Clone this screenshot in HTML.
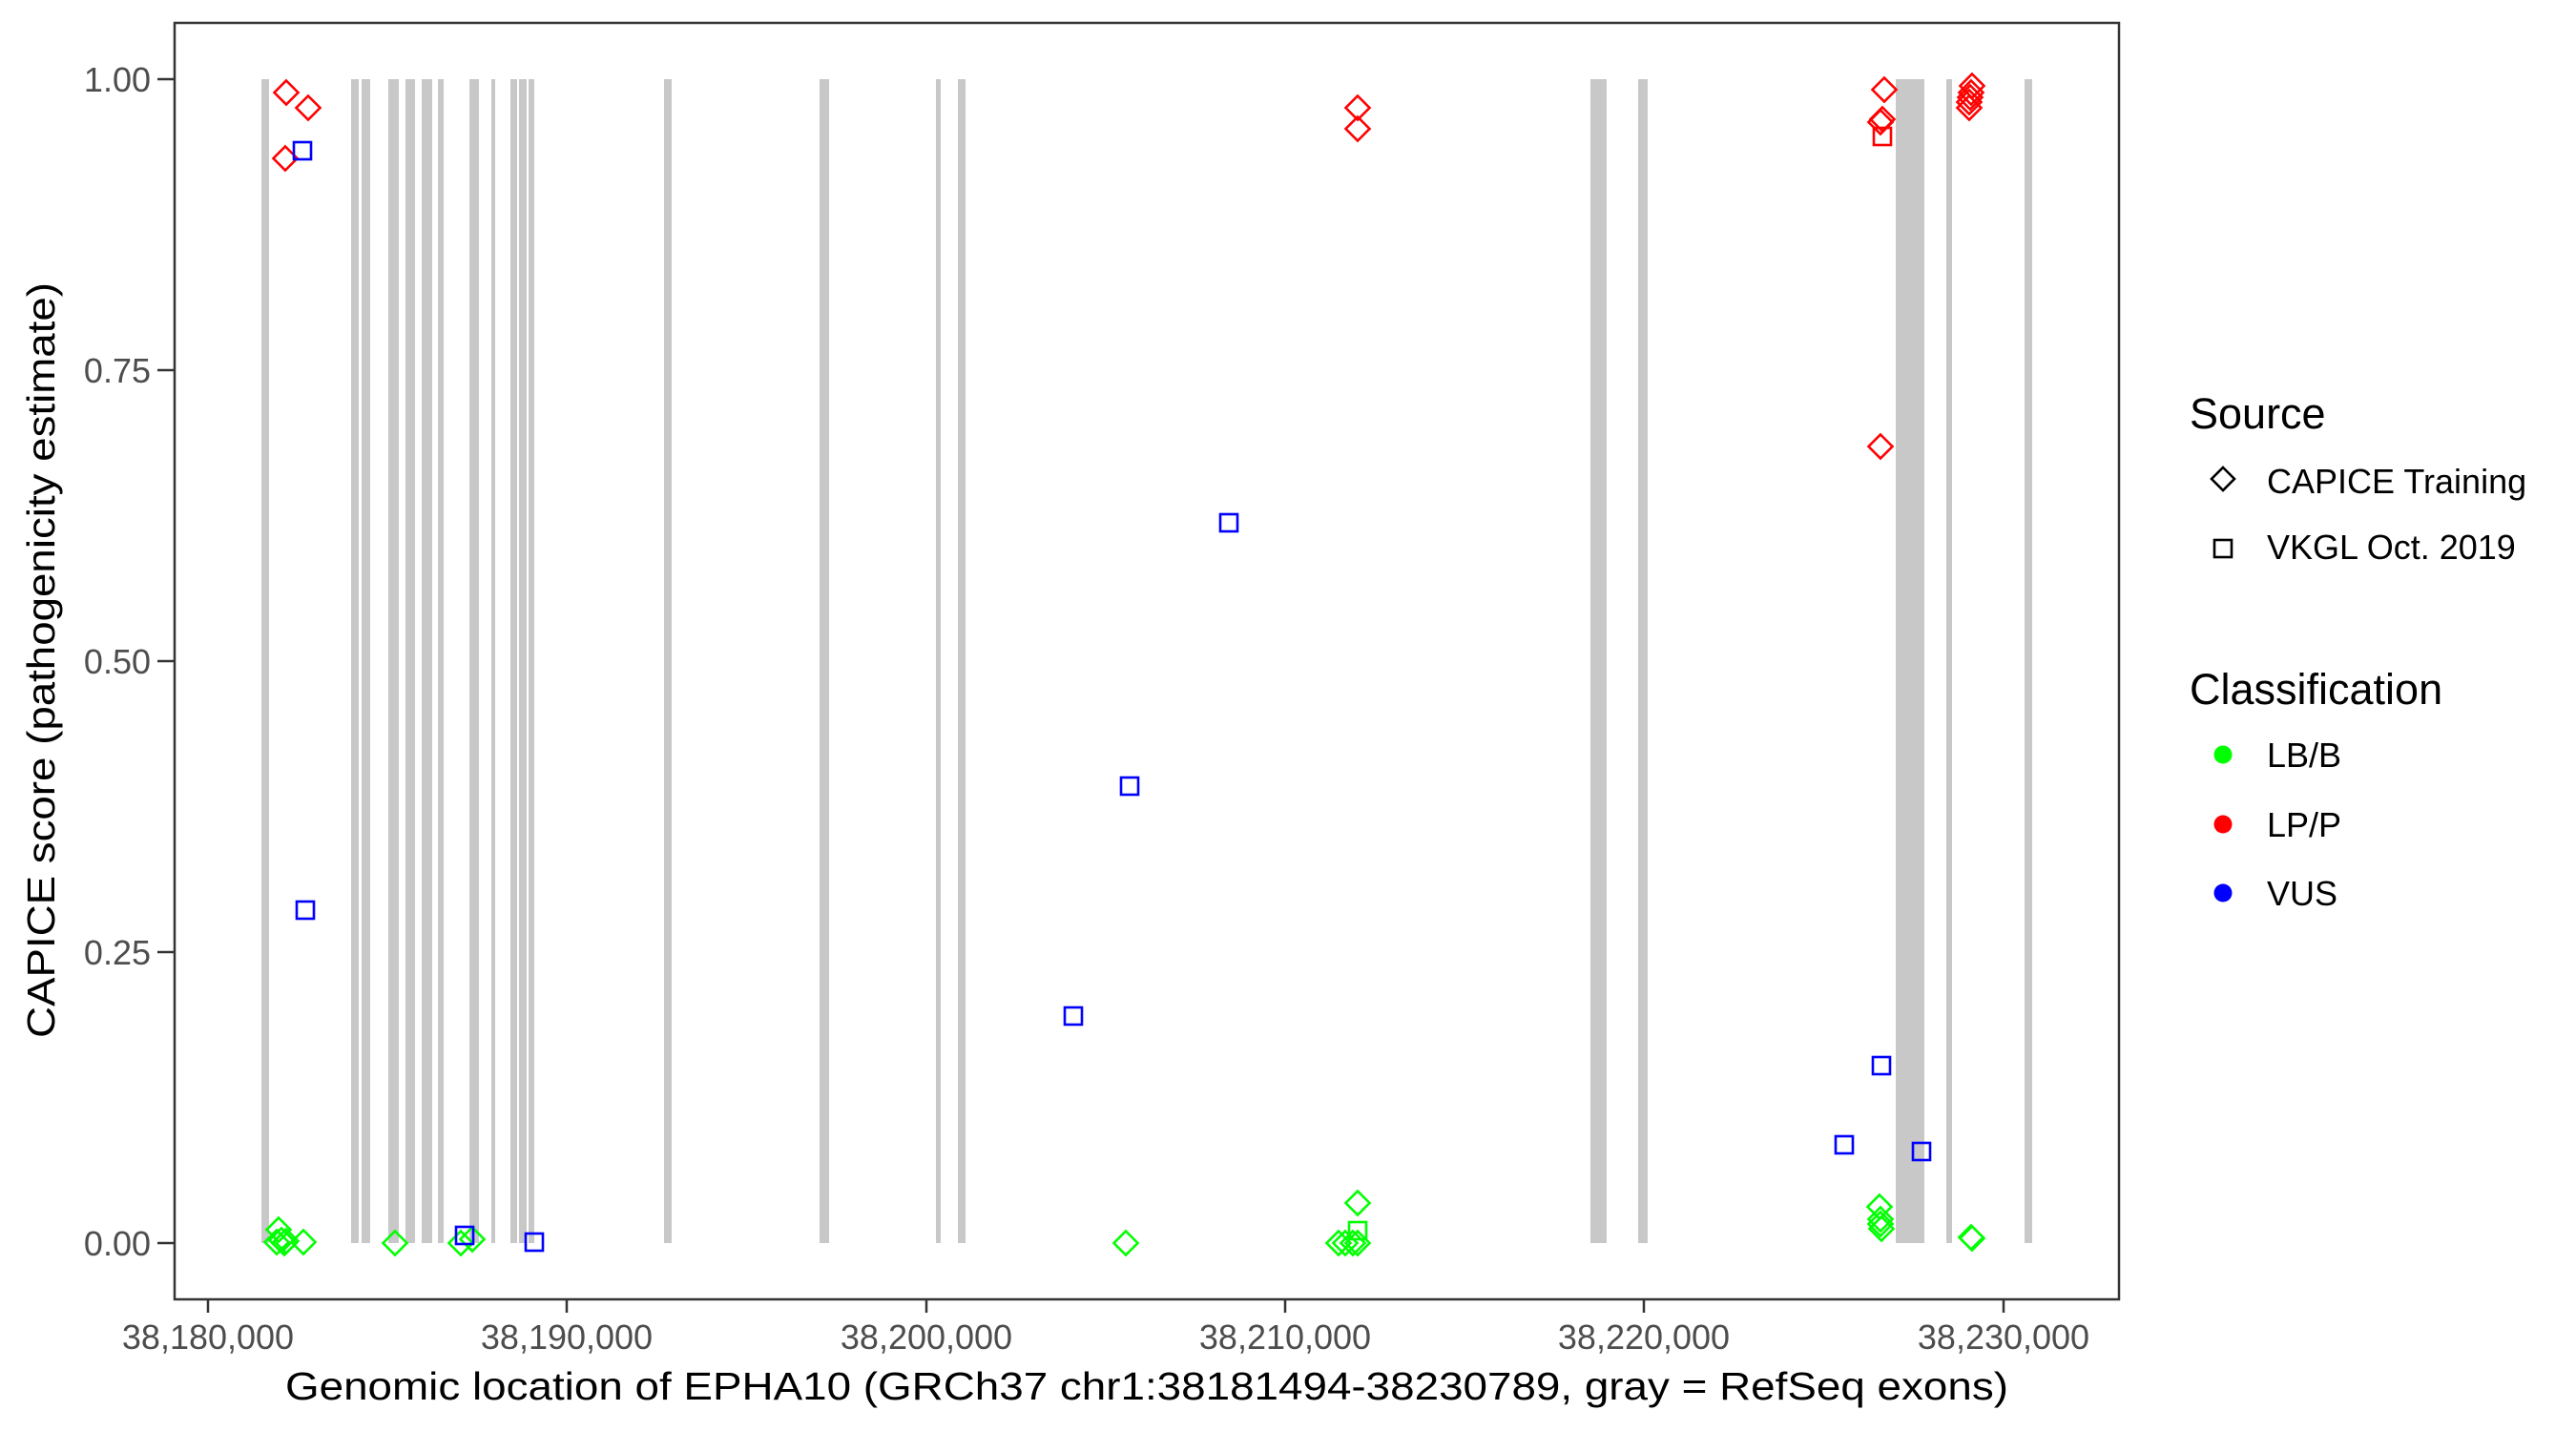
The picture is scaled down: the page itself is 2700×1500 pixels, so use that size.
<!DOCTYPE html>
<html><head><meta charset="utf-8"><style>html,body{margin:0;padding:0;background:#fff}svg{display:block}</style></head>
<body>
<svg xmlns="http://www.w3.org/2000/svg" width="2700" height="1500" viewBox="0 0 2700 1500" font-family="'Liberation Sans', Arial, sans-serif">
<rect width="2700" height="1500" fill="#fff"/>
<g fill="#c8c8c8">
<rect x="274" y="83" width="8" height="1220"/>
<rect x="368" y="83" width="8" height="1220"/>
<rect x="379" y="83" width="9" height="1220"/>
<rect x="407" y="83" width="11" height="1220"/>
<rect x="425" y="83" width="10" height="1220"/>
<rect x="442" y="83" width="11" height="1220"/>
<rect x="459" y="83" width="6" height="1220"/>
<rect x="492" y="83" width="10" height="1220"/>
<rect x="515" y="83" width="4" height="1220"/>
<rect x="535" y="83" width="7" height="1220"/>
<rect x="544" y="83" width="8" height="1220"/>
<rect x="554" y="83" width="6" height="1220"/>
<rect x="696" y="83" width="8" height="1220"/>
<rect x="859" y="83" width="10" height="1220"/>
<rect x="981" y="83" width="5" height="1220"/>
<rect x="1004" y="83" width="8" height="1220"/>
<rect x="1667" y="83" width="17" height="1220"/>
<rect x="1717" y="83" width="10" height="1220"/>
<rect x="1987" y="83" width="30" height="1220"/>
<rect x="2040" y="83" width="6" height="1220"/>
<rect x="2122" y="83" width="8" height="1220"/>
</g>
<defs>
<path id="d" d="M0,-12.5 L12.5,0 L0,12.5 L-12.5,0 Z" fill="none" stroke-width="2.6"/>
<rect id="s" x="-9" y="-9" width="18" height="18" fill="none" stroke-width="2.6"/>
</defs>
<g stroke="#00ff00">
<use href="#d" x="292" y="1289"/><use href="#d" x="290" y="1302"/><use href="#d" x="295" y="1300"/><use href="#d" x="298" y="1303"/><use href="#d" x="300" y="1301"/><use href="#d" x="318" y="1302"/>
<use href="#d" x="414" y="1303"/><use href="#d" x="483" y="1303"/><use href="#d" x="495" y="1299"/>
<use href="#d" x="1180" y="1303"/><use href="#d" x="1423" y="1261"/><use href="#s" x="1423" y="1290"/>
<use href="#d" x="1403" y="1303"/><use href="#d" x="1410" y="1303"/><use href="#d" x="1418" y="1303"/><use href="#d" x="1423" y="1303"/>
<use href="#d" x="1970" y="1265"/><use href="#d" x="1971" y="1278"/><use href="#d" x="1971" y="1283"/><use href="#d" x="1972" y="1288"/>
<use href="#d" x="2066" y="1297"/><use href="#d" x="2067" y="1298"/>
</g>
<g stroke="#ff0000">
<use href="#d" x="300" y="97"/><use href="#d" x="323" y="113"/><use href="#d" x="299" y="166"/>
<use href="#d" x="1423" y="113"/><use href="#d" x="1423" y="135"/>
<use href="#d" x="1975" y="94"/><use href="#d" x="1973" y="125"/><use href="#d" x="1971" y="128"/><use href="#s" x="1973" y="143"/><use href="#d" x="1971" y="468"/>
<use href="#d" x="2067" y="90"/><use href="#d" x="2066" y="97"/><use href="#d" x="2065" y="102"/><use href="#d" x="2064" y="107"/><use href="#d" x="2064" y="113"/>
</g>
<g stroke="#0000ff">
<use href="#s" x="317" y="158"/><use href="#s" x="320" y="954"/><use href="#s" x="487" y="1295"/><use href="#s" x="560" y="1302"/>
<use href="#s" x="1288" y="548"/><use href="#s" x="1184" y="824"/><use href="#s" x="1125" y="1065"/>
<use href="#s" x="1972" y="1117"/><use href="#s" x="1933" y="1200"/><use href="#s" x="2014" y="1207"/>
</g>
<rect x="183" y="24" width="2038" height="1338" fill="none" stroke="#333" stroke-width="2.5"/>
<g stroke="#333" stroke-width="2.5">
<line x1="165" y1="83" x2="182" y2="83"/><line x1="165" y1="388" x2="182" y2="388"/><line x1="165" y1="693" x2="182" y2="693"/><line x1="165" y1="998" x2="182" y2="998"/><line x1="165" y1="1303" x2="182" y2="1303"/>
<line x1="218" y1="1363" x2="218" y2="1376"/><line x1="594" y1="1363" x2="594" y2="1376"/><line x1="971" y1="1363" x2="971" y2="1376"/><line x1="1347" y1="1363" x2="1347" y2="1376"/><line x1="1723" y1="1363" x2="1723" y2="1376"/><line x1="2100" y1="1363" x2="2100" y2="1376"/>
</g>
<g fill="#4d4d4d" font-size="36" text-anchor="end">
<text x="158" y="96">1.00</text><text x="158" y="401">0.75</text><text x="158" y="706">0.50</text><text x="158" y="1011">0.25</text><text x="158" y="1316">0.00</text>
</g>
<g fill="#4d4d4d" font-size="36" text-anchor="middle">
<text x="218" y="1414">38,180,000</text><text x="594" y="1414">38,190,000</text><text x="971" y="1414">38,200,000</text><text x="1347" y="1414">38,210,000</text><text x="1723" y="1414">38,220,000</text><text x="2100" y="1414">38,230,000</text>
</g>
<text x="1202" y="1467" font-size="41" text-anchor="middle" textLength="1806" lengthAdjust="spacingAndGlyphs">Genomic location of EPHA10 (GRCh37 chr1:38181494-38230789, gray = RefSeq exons)</text>
<text transform="translate(57,692) rotate(-90)" font-size="41" text-anchor="middle" textLength="792" lengthAdjust="spacingAndGlyphs">CAPICE score (pathogenicity estimate)</text>
<text x="2295" y="449" font-size="45">Source</text>
<path d="M2330,490 L2342,502 L2330,514 L2318,502 Z" fill="none" stroke="#000" stroke-width="2.6"/>
<text x="2376" y="517" font-size="36">CAPICE Training</text>
<rect x="2321" y="566" width="18" height="18" fill="none" stroke="#000" stroke-width="2.6"/>
<text x="2376" y="586" font-size="36">VKGL Oct. 2019</text>
<text x="2295" y="738" font-size="45">Classification</text>
<circle cx="2330" cy="791" r="9.5" fill="#00ff00"/><text x="2376" y="804" font-size="36">LB/B</text>
<circle cx="2330" cy="864" r="9.5" fill="#ff0000"/><text x="2376" y="877" font-size="36">LP/P</text>
<circle cx="2330" cy="936" r="9.5" fill="#0000ff"/><text x="2376" y="949" font-size="36">VUS</text>
</svg>
</body></html>
